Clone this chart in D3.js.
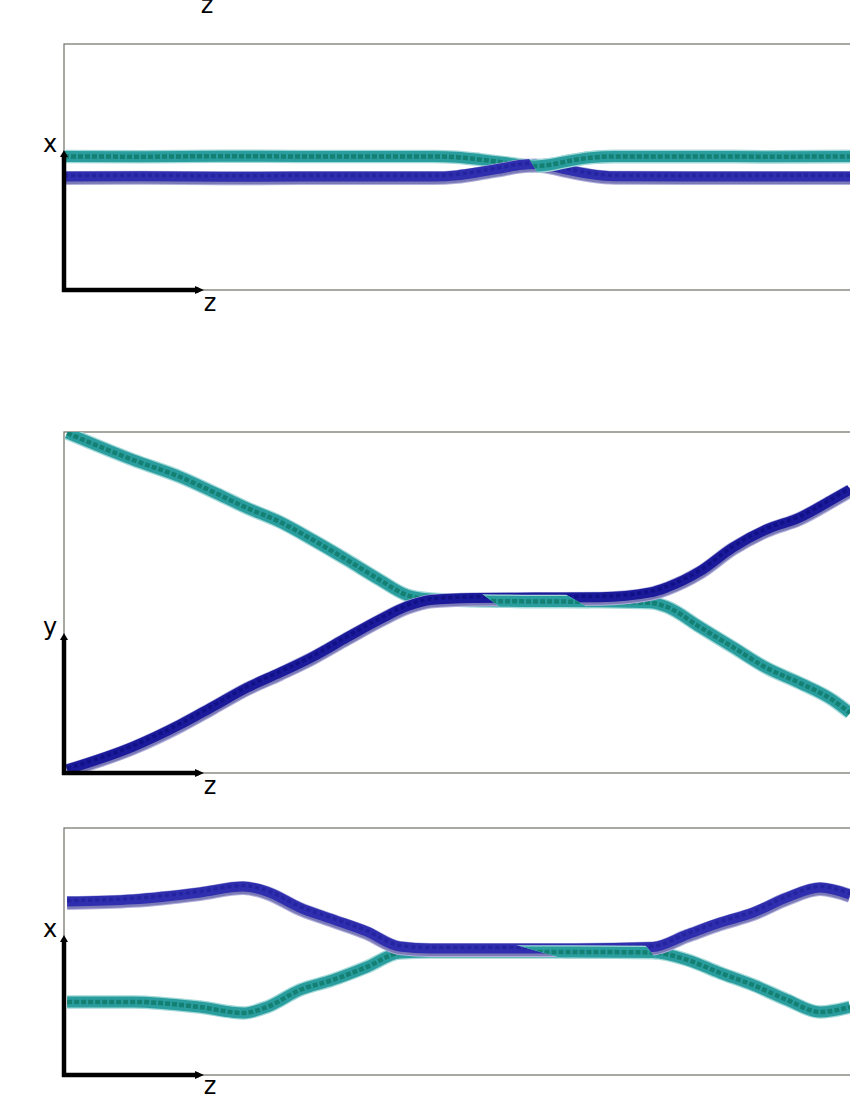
<!DOCTYPE html>
<html>
<head>
<meta charset="utf-8">
<script src="https://cdn.jsdelivr.net/npm/d3@7"></script>
<style>
  html, body { margin: 0; padding: 0; background: #fff; }
  svg { display: block; }
</style>
</head>
<body>
<script>
// ---- data (z as % of visible panel width, values as % of panel height) ----
const p1Z    = [0, 10, 20, 30, 40, 47, 50, 53, 56, 58, 60, 62, 64, 67, 70, 80, 90, 100];
const p1Teal = [54.3, 54.2, 54.4, 54.3, 54.3, 54.3, 54.0, 53.0, 51.8, 50.9, 50.4, 51.0, 52.3, 53.8, 54.3, 54.3, 54.2, 54.3];
const p1Blue = [45.9, 46.0, 45.8, 45.9, 45.9, 45.9, 46.4, 47.8, 49.5, 50.6, 51.0, 50.2, 48.7, 46.9, 46.0, 45.9, 45.9, 45.9];

const p2Z    = [0.4, 8.8, 14.8, 19.0, 23.3, 27.5, 31.7, 36.0, 40.2, 43.6, 46.6, 52, 60, 68.2, 74.6, 76.7, 80.9, 85.1, 89.4, 93.6, 97.8, 100];
const p2Teal = [99.7, 91.8, 86.8, 82.4, 77.7, 73.6, 68.3, 62.5, 56.6, 52.2, 51.0, 50.5, 50.3, 50.2, 49.9, 48.7, 42.8, 36.9, 30.8, 26.4, 21.4, 17.6];
const p2Blue = [0.9, 7.6, 14.1, 19.4, 24.9, 29.3, 34.0, 39.6, 44.9, 48.7, 50.6, 51.2, 51.3, 51.4, 52.8, 54.3, 59.0, 66.0, 71.3, 74.8, 80.1, 83.0];

const p3Z    = [0.4, 8.8, 17.3, 22.8, 25.8, 30.0, 34.2, 38.5, 42.7, 46.6, 55, 65, 74.9, 79.3, 83.5, 87.7, 92.0, 96.2, 100];
const p3Blue = [70.0, 70.9, 73.7, 76.1, 74.1, 67.6, 62.8, 57.9, 51.8, 51.0, 51.0, 51.0, 51.6, 56.7, 61.5, 65.6, 71.7, 75.7, 72.9];
const p3Teal = [29.6, 29.6, 27.5, 25.1, 27.5, 34.4, 38.5, 43.7, 49.4, 49.8, 49.8, 49.8, 49.6, 46.6, 41.3, 36.4, 30.4, 25.5, 27.5];

const axisLabels = ["x", "y", "x"];

// ---- layout ----
const W = 850, H = 1100;
const left = 64, right = 850;
// tealOver: z range where the teal strand lies over the blue one; slant = px shift per px of height
const panels = [
  { top: 44,  bottom: 290,  z: p1Z, teal: p1Teal, blue: p1Blue, label: axisLabels[0], blueCol: "#2e2eae", blueDark: "#1e1e98", tealOver: [59.7, 101], mid: 50.6, slant: [0.6, 0], zY: 311 },
  { top: 432, bottom: 773,  z: p2Z, teal: p2Teal, blue: p2Blue, label: axisLabels[1], blueCol: "#1a1a9a", blueDark: "#0a0a7c", tealOver: [54.2, 65.0], mid: 50.8, slant: [1.4, 1.7], zY: 794 },
  { top: 828, bottom: 1075, z: p3Z, teal: p3Teal, blue: p3Blue, label: axisLabels[2], blueCol: "#2e2eae", blueDark: "#1e1e98", tealOver: [60.0, 74.5], mid: 50.4, slant: [3.5, 0.8], zY: 1094 }
];

const svg = d3.select("body").append("svg")
  .attr("width", W).attr("height", H)
  .style("font-family", "'DejaVu Sans', sans-serif");

const defs = svg.append("defs");

const zScale = d3.scaleLinear().domain([0, 100]).range([left, right]);

// cut-off label from a panel above
svg.append("text").attr("x", 207).attr("y", 13)
  .attr("text-anchor", "middle").attr("font-size", 24).attr("fill", "#000").text("z");

panels.forEach((p, i) => {
  const vScale = d3.scaleLinear().domain([0, 100]).range([p.bottom, p.top]);
  const g = svg.append("g");

  defs.append("clipPath").attr("id", "clip" + i)
    .append("rect").attr("x", left).attr("y", p.top)
    .attr("width", right - left + 10).attr("height", p.bottom - p.top);

  // slanted clip region where teal is drawn above blue
  const yc = vScale(p.mid), h = 20;
  const xa = zScale(p.tealOver[0]), xb = zScale(p.tealOver[1]);
  const poly = [
    [xa - p.slant[0] * h, yc - h], [xb - p.slant[1] * h, yc - h],
    [xb + p.slant[1] * h, yc + h], [xa + p.slant[0] * h, yc + h]
  ];
  defs.append("clipPath").attr("id", "over" + i)
    .append("polygon").attr("points", poly.map(q => q.join(",")).join(" "));

  // frame
  g.append("rect")
    .attr("x", left).attr("y", p.top)
    .attr("width", right - left + 10).attr("height", p.bottom - p.top)
    .attr("fill", "none").attr("stroke", "#7a7a72").attr("stroke-width", 1.3);

  const line = d3.line()
    .x((d, k) => zScale(p.z[k]))
    .y(d => vScale(d))
    .curve(d3.curveMonotoneX);

  const lines = g.append("g").attr("clip-path", `url(#clip${i})`);

  function drawTeal(sel) {
    sel.append("path").attr("d", line(p.teal)).attr("fill", "none")
      .attr("stroke", "#a3d8d8").attr("stroke-width", 13.5).attr("stroke-linecap", "butt");
    sel.append("path").attr("d", line(p.teal)).attr("fill", "none")
      .attr("stroke", "#2a9e9e").attr("stroke-width", 11).attr("stroke-linecap", "butt");
    sel.append("path").attr("d", line(p.teal)).attr("fill", "none")
      .attr("stroke", "#0d7565").attr("stroke-width", 4.5).attr("stroke-opacity", 0.75)
      .attr("stroke-dasharray", "5,2");
  }
  function drawBlue(sel) {
    sel.append("path").attr("d", line(p.blue)).attr("fill", "none")
      .attr("stroke", "#b0b0dc").attr("stroke-width", 14).attr("stroke-linecap", "butt")
      .attr("transform", "translate(0,1)");
    sel.append("path").attr("d", line(p.blue)).attr("fill", "none")
      .attr("stroke", "#7c7ab6").attr("stroke-width", 11).attr("stroke-linecap", "butt")
      .attr("transform", "translate(0,1.5)");
    sel.append("path").attr("d", line(p.blue)).attr("fill", "none")
      .attr("stroke", p.blueCol).attr("stroke-width", 10).attr("stroke-linecap", "butt")
      .attr("transform", "translate(0,-0.5)");
    sel.append("path").attr("d", line(p.blue)).attr("fill", "none")
      .attr("stroke", p.blueDark).attr("stroke-width", 3.5).attr("stroke-opacity", 0.6)
      .attr("stroke-dasharray", "4,3").attr("transform", "translate(0,-1.5)");
  }

  drawTeal(lines);
  drawBlue(lines);
  // where the teal strand passes over the blue one
  drawTeal(lines.append("g").attr("clip-path", `url(#over${i})`));

  // axis arrows
  const ax = g.append("g");
  const arrowLen = 140;
  ax.append("line").attr("x1", left).attr("y1", p.bottom + 2)
    .attr("x2", left).attr("y2", p.bottom - arrowLen + 5)
    .attr("stroke", "#000").attr("stroke-width", 4.5);
  ax.append("path")
    .attr("d", `M${left - 4},${p.bottom - arrowLen + 7} L${left},${p.bottom - arrowLen} L${left + 4},${p.bottom - arrowLen + 7} Z`)
    .attr("fill", "#000");
  ax.append("line").attr("x1", left - 2).attr("y1", p.bottom)
    .attr("x2", left + arrowLen - 5).attr("y2", p.bottom)
    .attr("stroke", "#000").attr("stroke-width", 4.5);
  ax.append("path")
    .attr("d", `M${left + arrowLen - 9},${p.bottom - 4} L${left + arrowLen},${p.bottom} L${left + arrowLen - 9},${p.bottom + 4} Z`)
    .attr("fill", "#000");

  ax.append("text").attr("x", 50).attr("y", p.bottom - arrowLen + 2)
    .attr("text-anchor", "middle").attr("font-size", 24).attr("fill", "#000").text(p.label);
  ax.append("text").attr("x", 210).attr("y", p.zY)
    .attr("text-anchor", "middle").attr("font-size", 24).attr("fill", "#000").text("z");
});
</script>
</body>
</html>
